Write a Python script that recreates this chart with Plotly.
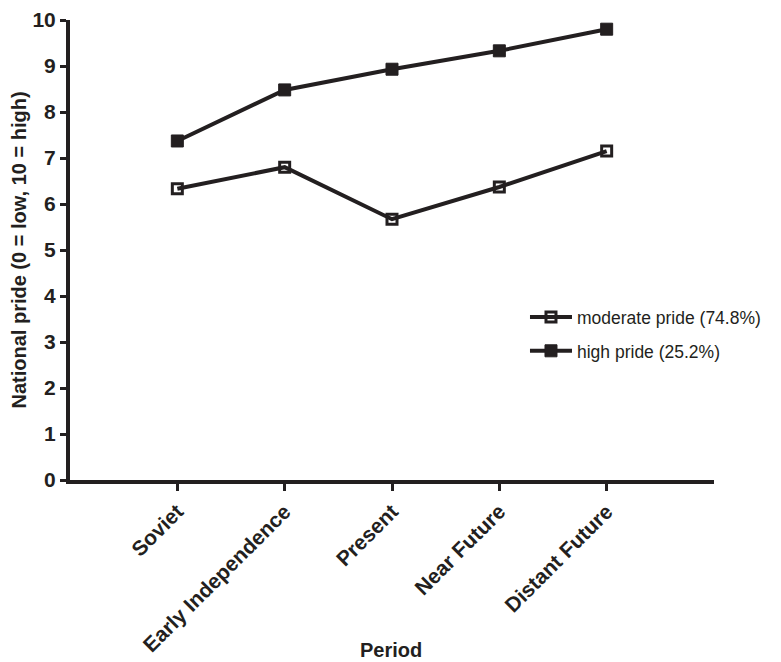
import plotly.graph_objects as go

categories = ["Soviet", "Early Independence", "Present", "Near Future", "Distant Future"]
cat_pos = [1, 2, 3, 4, 5]
moderate = [6.33, 6.80, 5.67, 6.37, 7.15]
high = [7.37, 8.48, 8.93, 9.33, 9.80]
y_ticks = [0, 1, 2, 3, 4, 5, 6, 7, 8, 9, 10]

ink = "#231f20"
font_family = "Arial, 'Liberation Sans', sans-serif"

fig = go.Figure()
fig.add_trace(go.Scatter(
    x=cat_pos, y=moderate, mode="lines+markers", name="moderate pride (74.8%)",
    legendgroup="moderate",
    line=dict(color=ink, width=4),
    marker=dict(symbol="square-open", size=10, color=ink, line=dict(width=3, color=ink)),
))
fig.add_trace(go.Scatter(
    x=cat_pos, y=high, mode="lines+markers", name="high pride (25.2%)",
    legendgroup="high",
    line=dict(color=ink, width=4),
    marker=dict(symbol="square", size=12, color=ink, line=dict(width=1, color=ink)),
))

fig.update_layout(
    width=781, height=662,
    margin=dict(l=62, r=75, t=12, b=190),
    paper_bgcolor="white", plot_bgcolor="white",
    font=dict(family=font_family, color=ink),
    showlegend=True,
    legend=dict(
        x=0.7065, y=0.317, xanchor="left", yanchor="middle",
        font=dict(size=17.5, color=ink, family=font_family),
        bgcolor="rgba(0,0,0,0)", itemwidth=42, tracegroupgap=8,
    ),
    xaxis=dict(
        range=[0, 6], tickmode="array", tickvals=cat_pos, ticktext=categories,
        tickangle=-45, showgrid=False, zeroline=False, automargin=False,
        showline=True, linecolor=ink, linewidth=4,
        ticks="outside", ticklen=7, tickwidth=3, tickcolor=ink,
        tickfont=dict(size=21, family=font_family, color=ink, weight="bold"),
        ticklabeloverflow="allow",
    ),
    yaxis=dict(
        range=[0, 10], tickmode="array", tickvals=y_ticks,
        showgrid=False, zeroline=False, automargin=False,
        showline=True, linecolor=ink, linewidth=4,
        ticks="outside", ticklen=6, tickwidth=3, tickcolor=ink,
        tickfont=dict(size=21, family=font_family, color=ink, weight="bold"),
        ticklabeloverflow="allow",
        title=dict(text="<b>National pride (0 = low, 10 = high)</b>", font=dict(size=20, color=ink), standoff=10),
    ),
    annotations=[dict(
        text="<b>Period</b>", xref="paper", yref="paper", x=0.498, y=-0.369,
        xanchor="center", yanchor="middle", showarrow=False,
        font=dict(size=20, color=ink, family=font_family),
    )],
)

fig.write_html("out.html")
